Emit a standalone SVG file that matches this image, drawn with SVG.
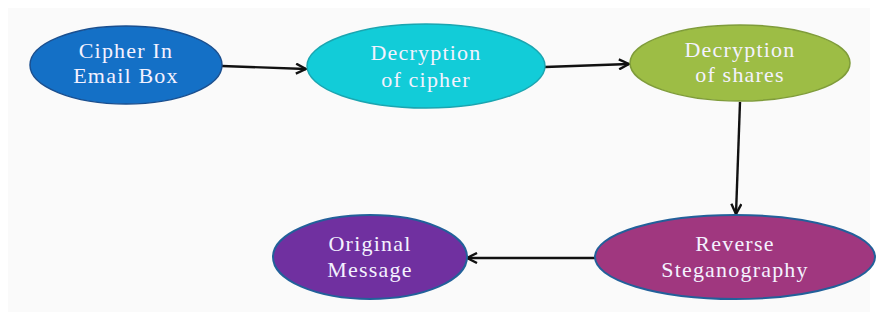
<svg xmlns="http://www.w3.org/2000/svg" width="878" height="320" viewBox="0 0 878 320">
<defs>
<style>
.lbl{font-family:"Liberation Serif","DejaVu Serif",serif;font-size:22px;fill:#f4f2ff;text-anchor:middle;letter-spacing:1.2px}
.conn{stroke:#111;stroke-width:2.4;fill:none}
</style>
<marker id="arr" viewBox="0 0 12 12" refX="11" refY="6" markerWidth="12" markerHeight="12" markerUnits="userSpaceOnUse" orient="auto">
<path d="M1,1 L11,6 L1,11" fill="none" stroke="#111" stroke-width="2.4"/>
</marker>
</defs>
<rect width="878" height="320" fill="#ffffff"/>
<rect x="8" y="8" width="862" height="304" fill="#fafafa"/>
<g id="connectors">
<path class="conn" d="M222,66 L306,69" marker-end="url(#arr)"/>
<path class="conn" d="M545,67 L629,64" marker-end="url(#arr)"/>
<path class="conn" d="M740,102 L736,214" marker-end="url(#arr)"/>
<path class="conn" d="M595,258 L467,258" marker-end="url(#arr)"/>
</g>
<g id="n1">
<ellipse cx="126" cy="65" rx="96" ry="39" fill="#1470c6" stroke="#1a4f8f" stroke-width="1.5"/>
<text class="lbl" x="126" y="58">Cipher In</text>
<text class="lbl" x="126" y="83">Email Box</text>
</g>
<g id="n2">
<ellipse cx="426" cy="66" rx="119" ry="42" fill="#12ccd8" stroke="#1aa5b0" stroke-width="1.5"/>
<text class="lbl" x="426" y="60">Decryption</text>
<text class="lbl" x="426" y="87">of cipher</text>
</g>
<g id="n3">
<ellipse cx="740" cy="63" rx="110" ry="38" fill="#9dbd45" stroke="#7f9c3a" stroke-width="1.5"/>
<text class="lbl" x="740" y="57">Decryption</text>
<text class="lbl" x="740" y="82">of shares</text>
</g>
<g id="n4">
<ellipse cx="370" cy="257" rx="97" ry="42" fill="#7030a0" stroke="#22609a" stroke-width="2"/>
<text class="lbl" x="370" y="251">Original</text>
<text class="lbl" x="370" y="277">Message</text>
</g>
<g id="n5">
<ellipse cx="735" cy="257" rx="140" ry="42" fill="#a0377f" stroke="#22609a" stroke-width="2"/>
<text class="lbl" x="735" y="251">Reverse</text>
<text class="lbl" x="735" y="277">Steganography</text>
</g>
</svg>
